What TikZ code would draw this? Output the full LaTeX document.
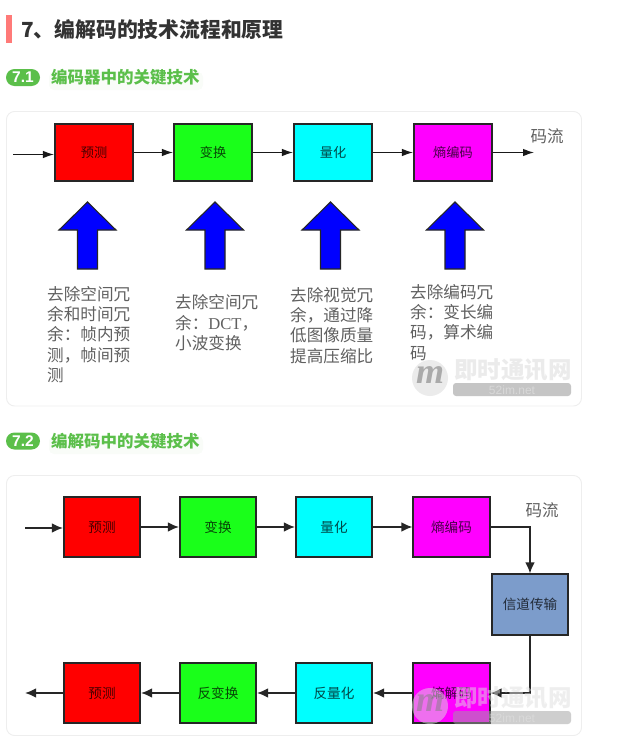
\documentclass[tikz,border=0pt]{standalone}
\usepackage{fontspec}
\setmainfont{Liberation Serif}
\newfontfamily\cjk{Noto Sans CJK SC}
\newfontfamily\latinsans{Liberation Sans}
\usetikzlibrary{arrows.meta,positioning}
\definecolor{hgreen}{HTML}{5BBF4A}
\definecolor{hbar}{HTML}{FF7A78}
\definecolor{cardline}{HTML}{EEEEEE}
\definecolor{bodytext}{HTML}{606060}
\definecolor{linkblue}{HTML}{7C9CCB}
\definecolor{green1}{HTML}{1AFF1A}
\definecolor{pcyan}{HTML}{00FFFF}
\definecolor{pmagenta}{HTML}{FF00FF}
\definecolor{pred}{HTML}{FF0000}
\definecolor{pblue}{HTML}{0000FF}
\tikzset{
  x=1pt,y=-1pt,
  card/.style={draw=cardline,line width=0.9pt,rounded corners=8pt,fill=white},
  proc/.style={draw=black!85,line width=1.6pt,minimum width=78.5pt,minimum height=57.5pt,inner sep=0pt,font=\cjk\fontsize{13.2}{15}\selectfont,text=black,text opacity=0.72},
  procb/.style={proc,minimum width=76.5pt,minimum height=60.5pt,font=\cjk\fontsize{13.6}{15}\selectfont},
  flow/.style={draw=black!90,line width=1.1pt,-{Latex[length=11pt,width=7.5pt]}},
  flowb/.style={draw=black!85,line width=1.4pt,-{Latex[length=11pt,width=9.5pt]}},
  note/.style={anchor=north west,inner sep=0pt,align=left,text=bodytext,font=\cjk\fontsize{16.6}{20.3}\selectfont},
  stream/.style={inner sep=0pt,text=bodytext,font=\cjk\fontsize{16.5}{18}\selectfont},
  badge/.style={fill=hgreen,rounded corners=8.5pt,minimum width=34pt,minimum height=17pt,inner sep=0pt,text=white,font=\latinsans\bfseries\fontsize{15.5}{16}\selectfont},
  sect/.style={anchor=west,inner sep=0pt,text=hgreen,font=\cjk\bfseries\fontsize{16.5}{18}\selectfont},
  sectglow/.style={fill=hgreen,opacity=0.035,rounded corners=5pt},
  up/.style={draw=black!85,fill=pblue,line width=1.1pt,line join=miter},
}
\newcommand{\uparrowat}[1]{\draw[up] (#1,202) -- ++(28.5,28) -- ++(-18.5,0) -- ++(0,39) -- ++(-20,0) -- ++(0,-39) -- ++(-18.5,0) -- cycle;}
\newcommand{\wmark}[2]{%
  \fill[gray!25,opacity=#2] (430,#1) circle (18);
  \node[inner sep=0pt,text=gray,opacity=#2,font=\bfseries\itshape\fontsize{36}{36}\selectfont] at (430,#1-3) {m};
  \node[inner sep=0pt,text=gray!25,opacity=#2,font=\cjk\bfseries\fontsize{23.5}{25}\selectfont] at (513,#1-8) {即时通讯网};
  \fill[gray!75,opacity=#2,rounded corners=3pt] (453,#1+5) rectangle (571,#1+18);
  \node[inner sep=0pt,text=gray!20,opacity=#2,font=\latinsans\fontsize{12}{12}\selectfont] at (512,#1+12) {52im.net};
}
\begin{document}
\begin{tikzpicture}
\useasboundingbox[fill=white] (0,0) rectangle (626,744);

% heading
\fill[hbar] (6,15) rectangle (12,43);
\node[anchor=west,inner sep=0pt,text=black!80,font=\cjk\bfseries\fontsize{20.8}{24}\selectfont] (title) at (21,30) {7、编解码的技术流程和原理};

% section 7.1
\node[badge] (b1) at (23,77.5) {7.1};
\fill[sectglow] (49,72) rectangle (203,90);
\node[sect] (s1) at (51,77) {编码器中的关键技术};

\draw[card] (6.5,111.5) rectangle (581.5,406);

\node[proc,fill=pred] (a1) at (94,152.5) {预测};
\node[proc,fill=green1] (a2) at (213,152.5) {变换};
\node[proc,fill=pcyan] (a3) at (333,152.5) {量化};
\node[proc,fill=pmagenta] (a4) at (453,152.5) {熵编码};
\coordinate (ain) at (13,154.5);
\coordinate (aout) at (534,152.5);
\node[stream] (astream) at (547,136) {码流};
\draw[flow] (ain) -- (a1.west |- ain);
\draw[flow] (a1) -- (a2);
\draw[flow] (a2) -- (a3);
\draw[flow] (a3) -- (a4);
\draw[flow] (a4) -- (aout);

\uparrowat{87.5}
\uparrowat{215}
\uparrowat{330.5}
\uparrowat{455}

\node[note] (n1) at (47,286) {去除空间冗\\余和时间冗\\余：帧内预\\测，帧间预\\测};
\node[note] (n2) at (175,294.5) {去除空间冗\\余：{\fontspec{Liberation Serif}DCT}，\\小波变换};
\node[note] (n3) at (290,287) {去除视觉冗\\余，通过降\\低图像质量\\提高压缩比};
\node[note] (n4) at (410,284) {去除编码冗\\余：变长编\\码，算术编\\码};

\wmark{378}{0.6}

% section 7.2
\node[badge] (b2) at (23,441) {7.2};
\fill[sectglow] (49,436) rectangle (203,454);
\node[sect] (s2) at (51,441) {编解码中的关键技术};

\draw[card] (6.5,475.5) rectangle (581.5,735.5);

\node[procb,fill=pred] (c1) at (102,527) {预测};
\node[procb,fill=green1] (c2) at (218,527) {变换};
\node[procb,fill=pcyan] (c3) at (334,527) {量化};
\node[procb,fill=pmagenta] (c4) at (451.5,527) {熵编码};
\node[procb,fill=linkblue] (ch) at (530,604.5) {信道传输};
\node[procb,fill=pmagenta] (d4) at (451.5,693) {熵解码};
\node[procb,fill=pcyan] (d3) at (334,693) {反量化};
\node[procb,fill=green1] (d2) at (218,693) {反变换};
\node[procb,fill=pred] (d1) at (102,693) {预测};
\coordinate (cin) at (25,528);
\coordinate (dout) at (25,693);
\node[stream] (cstream) at (542,510) {码流};
\draw[flowb] (cin) -- (c1.west |- cin);
\draw[flowb] (c1) -- (c2);
\draw[flowb] (c2) -- (c3);
\draw[flowb] (c3) -- (c4);
\draw[flowb] (c4.east) -| (ch.north);
\draw[flowb] (ch.south) |- (d4.east);
\draw[flowb] (d4) -- (d3);
\draw[flowb] (d3) -- (d2);
\draw[flowb] (d2) -- (d1);
\draw[flowb] (d1) -- (dout);

\wmark{706}{0.5}
\end{tikzpicture}
\end{document}
